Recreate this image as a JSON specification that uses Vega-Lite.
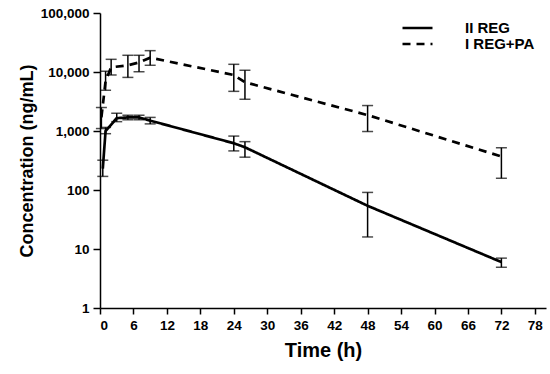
{
  "$schema": "https://vega.github.io/schema/vega-lite/v6.json",
  "autosize": "none",
  "padding": {"left": 100, "top": 13, "right": 4, "bottom": 66},
  "width": 446,
  "height": 295,
  "background": "white",
  "config": {
    "view": {"stroke": null},
    "axis": {
      "labelFont": "Liberation Sans", "labelFontWeight": "bold", "labelFontSize": 13.5, "labelColor": "black",
      "titleFont": "Liberation Sans", "titleFontWeight": "bold", "titleFontSize": 18, "titleColor": "black",
      "domainColor": "black", "domainWidth": 1.5, "tickColor": "black", "tickWidth": 1.5, "tickSize": 6,
      "grid": false
    },
    "legend": {"labelFont": "Liberation Sans", "labelFontWeight": "bold", "labelFontSize": 15, "labelColor": "black"}
  },
  "data": {
    "values": [
      {"series": "I REG+PA", "t": 0.25, "c": 1700, "lo": 1100, "hi": 2500},
      {"series": "I REG+PA", "t": 1, "c": 7000, "lo": 4900, "hi": 10300},
      {"series": "I REG+PA", "t": 2, "c": 12000, "lo": 8900, "hi": 16400},
      {"series": "I REG+PA", "t": 5, "c": 13000, "lo": 8100, "hi": 19200},
      {"series": "I REG+PA", "t": 7, "c": 14500, "lo": 10100, "hi": 19200},
      {"series": "I REG+PA", "t": 9, "c": 17500, "lo": 13000, "hi": 23000},
      {"series": "I REG+PA", "t": 24, "c": 8900, "lo": 4700, "hi": 13500},
      {"series": "I REG+PA", "t": 26, "c": 6700, "lo": 3450, "hi": 10700},
      {"series": "I REG+PA", "t": 48, "c": 1860, "lo": 980, "hi": 2700},
      {"series": "I REG+PA", "t": 72, "c": 370, "lo": 158, "hi": 520},
      {"series": "II REG", "t": 0.5, "c": 230, "lo": 170, "hi": 320},
      {"series": "II REG", "t": 1, "c": 1000, "lo": 900, "hi": 1150},
      {"series": "II REG", "t": 3, "c": 1650, "lo": 1440, "hi": 2000},
      {"series": "II REG", "t": 5, "c": 1700, "lo": 1550, "hi": 1850},
      {"series": "II REG", "t": 7, "c": 1700, "lo": 1550, "hi": 1850},
      {"series": "II REG", "t": 9, "c": 1500, "lo": 1320, "hi": 1700},
      {"series": "II REG", "t": 24, "c": 620, "lo": 460, "hi": 820},
      {"series": "II REG", "t": 26, "c": 530, "lo": 360, "hi": 660},
      {"series": "II REG", "t": 48, "c": 54, "lo": 16, "hi": 91},
      {"series": "II REG", "t": 72, "c": 6, "lo": 4.9, "hi": 7.0}
    ]
  },
  "encoding": {
    "x": {
      "field": "t", "type": "quantitative",
      "scale": {"domain": [0, 80], "nice": false},
      "axis": {"title": "Time (h)", "titleFontSize": 20, "values": [0, 6, 12, 18, 24, 30, 36, 42, 48, 54, 60, 66, 72, 78], "labelPadding": 4, "titlePadding": 9}
    }
  },
  "layer": [
    {
      "mark": {"type": "line", "color": "black", "strokeWidth": 2.7},
      "encoding": {
        "y": {
          "field": "c", "type": "quantitative",
          "scale": {"type": "log", "domain": [1, 100000], "nice": false},
          "axis": {"title": "Concentration (ng/mL)", "values": [1, 10, 100, 1000, 10000, 100000], "format": ",", "tickSize": 7, "labelPadding": 4, "titlePadding": 4}
        },
        "strokeDash": {
          "field": "series", "type": "nominal",
          "scale": {"domain": ["II REG", "I REG+PA"], "range": [[1, 0], [8, 6]]},
          "legend": {"title": null, "orient": "none", "legendX": 301, "legendY": 7, "symbolType": "stroke", "symbolSize": 900, "symbolStrokeWidth": 2.7, "symbolStrokeColor": "black", "labelOffset": 31, "clipHeight": 16, "rowPadding": 0}
        }
      }
    },
    {
      "mark": {"type": "rule", "color": "black", "strokeWidth": 1.5},
      "encoding": {
        "y": {"field": "lo", "type": "quantitative"},
        "y2": {"field": "hi"}
      }
    },
    {
      "mark": {"type": "tick", "color": "black", "orient": "horizontal", "size": 11, "thickness": 1.5},
      "encoding": {"y": {"field": "lo", "type": "quantitative"}}
    },
    {
      "mark": {"type": "tick", "color": "black", "orient": "horizontal", "size": 11, "thickness": 1.5},
      "encoding": {"y": {"field": "hi", "type": "quantitative"}}
    }
  ]
}
